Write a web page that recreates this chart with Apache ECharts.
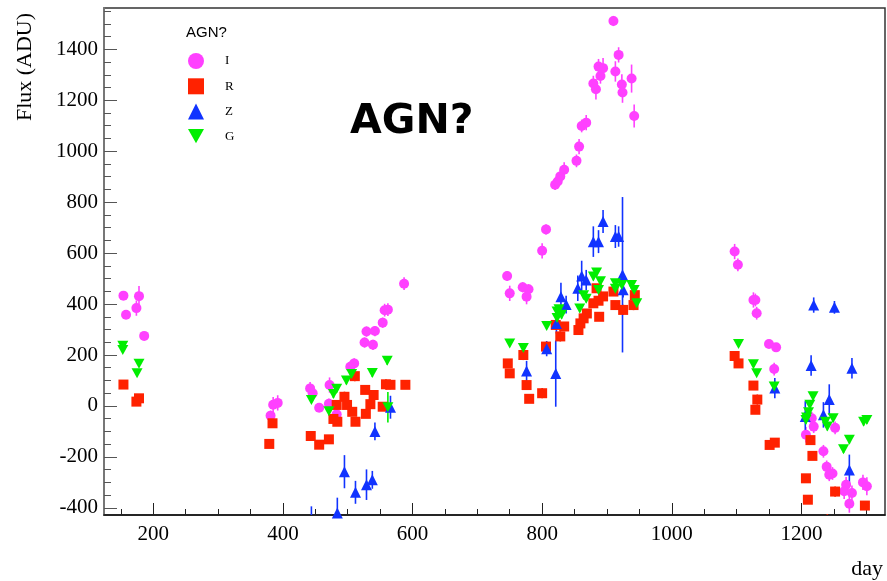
<!DOCTYPE html>
<html><head><meta charset="utf-8">
<script src="https://cdn.jsdelivr.net/npm/echarts@6/dist/echarts.min.js"></script>
<style>html,body{margin:0;padding:0;background:#fff}#c{width:887px;height:581px}</style>
</head><body><div id="c"></div>
<script>
// ---- data (day, flux, error) ----
const iDays = [154,178,174,158,186, 381,385,392,442,446,456,472,471,483,504,510,526,529,539,542,554,557,562,587,
  746,750,770,779,776,800,806,820,824,828,834,853,857,861,868,879,883,887,890,894,910,913,918,923,924,938,942,
  1097,1102,1126,1129,1131,1150,1161,1158,1207,1216,1219,1234,1239,1243,1248,1252,1269,1266,1278,1274,1295,1301];
const iVals = [433,431,384,358,275, -38,5,12,69,50,-7,82,9,-33,154,167,249,292,240,294,327,376,378,480,
  510,442,466,458,429,609,693,868,881,901,927,962,1018,1099,1112,1266,1243,1332,1295,1326,1511,1313,1378,1262,1230,1285,1138,
  606,554,416,416,364,243,230,145,-113,-48,-81,-178,-239,-270,-265,-86,-309,-335,-342,-384,-300,-315];
const iErrs = [15,40,30,15,15, 20,30,30,25,20,15,30,20,35,20,20,20,20,20,20,20,25,25,25,
  20,30,20,20,30,30,20,20,25,25,30,25,30,25,30,30,40,30,30,40,20,40,30,40,40,55,45,
  30,25,30,25,25,15,15,25,30,25,25,25,25,25,25,25,30,30,30,35,30,35];

const rDays = [154,178,174, 379,384,443,456,471,478,484,483,495,499,507,512,511,527,535,528,540,554,559,566,589,
  747,750,771,776,780,800,806,821,828,834,856,859,864,869,879,887,888,894,884,910,913,925,941,943,
  1097,1103,1126,1132,1129,1151,1159,1214,1217,1207,1210,1252,1298,1240];
const rVals = [84,30,17, -149,-68,-118,-152,-131,-51,-62,4,36,4,-23,-62,117,63,7,-31,43,-3,85,83,83,
  167,128,200,82,28,50,233,318,273,312,298,324,344,363,403,413,350,430,462,449,396,377,396,435,
  196,167,80,25,-15,-153,-144,-134,-196,-284,-368,-336,-391,-455];
const rErrs = [10,10,10, 15,15,10,10,10,15,15,15,20,15,15,15,20,15,15,15,15,15,20,15,15,
  15,15,20,15,15,20,15,20,20,15,15,15,15,15,15,15,15,15,15,15,15,20,20,20,
  15,15,15,20,15,15,15,15,15,15,15,20,15,30];

const zDays = [444,484,495,512,529,538,542,566, 776,807,821,822,829,837,855,861,868,879,887,894,913,918,924,925,
  1159,1206,1215,1219,1234,1243,1251,1274,1278];
const zVals = [-480,-420,-258,-339,-309,-290,-100,-5, 137,225,127,324,429,398,462,510,494,645,645,724,665,665,515,456,
  70,-41,159,396,-35,25,387,-251,148];
const zErrs = [86,60,65,45,60,35,35,45, 40,30,130,40,55,35,50,60,40,60,45,45,45,40,305,30,
  40,60,40,30,50,60,25,60,40];

const gDays = [153,153,178,175, 444,471,478,483,498,506,538,561,562,
  750,771,807,823,826,830,823,858,864,868,879,884,890,887,913,913,923,938,942,946,
  1103,1126,1131,1158,1218,1213,1211,1208,1207,1237,1240,1249,1274,1265,1296,1301];
const gVals = [236,220,166,128, 23,-21,47,68,100,125,129,177,-5,
  245,227,314,371,380,358,345,383,435,421,508,524,489,455,482,460,475,475,455,403,
  243,164,128,76,38,5,-25,-45,-55,-62,-81,-48,-133,-170,-62,-55];
const gErrs = [10,10,10,10, 10,15,15,15,15,15,15,15,60,
  10,10,10,15,15,15,15,15,15,15,15,15,15,15,15,15,15,15,15,15,
  10,10,10,15,15,15,15,15,15,15,15,15,15,15,15,15];

const xMajorTicks = [200,400,600,800,1000,1200];
const yMajorTicks = [-400,-200,0,200,400,600,800,1000,1200,1400];

// ---- styling ----
const COL = {I:'#ff40ff', R:'#ff2200', Z:'#1133ff', G:'#00ee00'};
const DOWN_TRI = 'path://M0,0 L10,0 L5,9 Z';
const serif = 'Liberation Serif';
const plain = v => String(v);

function pts(d, v, e){ return d.map((x,i)=>[x, v[i], e[i]]); }
const xMinor = []; for (let t=150; t<=1300; t+=50) xMinor.push(t);
const yMinor = []; for (let t=-400; t<=1550; t+=50) yMinor.push(t);

function errSeries(name, data, color){
  return {
    type:'custom', name: name+'_err', data: data, clip: true, z: 1, silent: true,
    xAxisIndex:0, yAxisIndex:0, encode:{x:0, y:1},
    renderItem: function(params, api){
      const x = api.value(0), y = api.value(1), e = api.value(2);
      const a = api.coord([x, y+e]), b = api.coord([x, y-e]);
      return {type:'line', shape:{x1:a[0], y1:a[1], x2:b[0], y2:b[1]}, style:{stroke:color, lineWidth:1.6}};
    }
  };
}
function scat(name, data, symbol, size, color, z){
  return {type:'scatter', name:name, data:data, symbol:symbol, symbolSize:size, clip:true, z:z,
    itemStyle:{color:color, opacity:1}, encode:{x:0,y:1}, xAxisIndex:0, yAxisIndex:0};
}

const I = pts(iDays,iVals,iErrs), R = pts(rDays,rVals,rErrs), Z = pts(zDays,zVals,zErrs), G = pts(gDays,gVals,gErrs);

const chart = echarts.init(document.getElementById('c'), null, {renderer:'canvas'});
chart.setOption({
  animation:false,
  backgroundColor:'#fff',
  title:[
    {text:'AGN?', left:345, top:97, textStyle:{fontFamily:'DejaVu Sans', fontWeight:'bold', fontSize:41, color:'#000'}},
    {text:'AGN?', left:181, top:20, textStyle:{fontFamily:'Liberation Sans', fontWeight:'normal', fontSize:15, color:'#000'}}
  ],
  legend:{
    orient:'vertical', left:183, top:48, itemWidth:16, itemHeight:16, itemGap:9.3,
    textStyle:{fontFamily:serif, fontSize:13, color:'#000', padding:[0,0,0,16]},
    data:[{name:'I', icon:'circle'},{name:'R', icon:'rect'},{name:'Z', icon:'triangle'},{name:'G', icon:DOWN_TRI}]
  },
  grid:{left:104, right:2, top:8, bottom:66, show:true, borderColor:'#333', borderWidth:1.5, backgroundColor:'#fff'},
  xAxis:[
    {type:'value', min:124, max:1329, position:'bottom',
     axisLine:{show:true, onZero:false, lineStyle:{color:'#111', width:1.5}},
     axisTick:{show:true, inside:true, length:12, customValues:xMajorTicks, lineStyle:{color:'#222', width:1}},
     axisLabel:{show:true, customValues:xMajorTicks, formatter:plain, margin:9, fontFamily:serif, fontSize:21, color:'#000'},
     splitLine:{show:false}},
    {type:'value', min:124, max:1329, position:'bottom',
     axisLine:{show:false, onZero:false}, axisLabel:{show:false}, splitLine:{show:false},
     axisTick:{show:true, inside:true, length:6, customValues:xMinor, lineStyle:{color:'#222', width:1}}}
  ],
  yAxis:[
    {type:'value', min:-428, max:1562, position:'left',
     axisLine:{show:true, onZero:false, lineStyle:{color:'#777', width:2}},
     axisTick:{show:true, inside:true, length:13, customValues:yMajorTicks, lineStyle:{color:'#555', width:1}},
     axisLabel:{show:true, customValues:yMajorTicks, formatter:plain, margin:6, fontFamily:serif, fontSize:21, color:'#000'},
     splitLine:{show:false}},
    {type:'value', min:-428, max:1562, position:'left',
     axisLine:{show:false, onZero:false}, axisLabel:{show:false}, splitLine:{show:false},
     axisTick:{show:true, inside:true, length:7, customValues:yMinor, lineStyle:{color:'#555', width:1}}}
  ],
  graphic:[
    {type:'text', x:25, y:67, rotation:Math.PI/2, style:{text:'Flux (ADU)', fontFamily:serif, fontSize:22, fill:'#000', textAlign:'center', textVerticalAlign:'middle'}},
    {type:'text', x:883, y:569, style:{text:'day', fontFamily:serif, fontSize:22, fill:'#000', textAlign:'right', textVerticalAlign:'middle'}}
  ],
  series:[
    errSeries('I', I, COL.I), scat('I', I, 'circle', 10, COL.I, 2),
    errSeries('R', R, COL.R), scat('R', R, 'rect', 10, COL.R, 3),
    errSeries('Z', Z, COL.Z), scat('Z', Z, 'triangle', 11, COL.Z, 4),
    errSeries('G', G, COL.G), scat('G', G, DOWN_TRI, [11,10], COL.G, 5)
  ]
});
</script>
</body></html>
